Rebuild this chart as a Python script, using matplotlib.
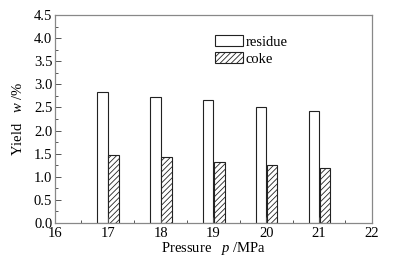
import matplotlib
matplotlib.use("Agg")
import matplotlib.pyplot as plt
import matplotlib.transforms as mtransforms
from matplotlib.ticker import MultipleLocator

pressure = [17, 18, 19, 20, 21]
residue = [2.83, 2.73, 2.66, 2.50, 2.42]
coke = [1.48, 1.43, 1.32, 1.26, 1.20]

plt.rcParams['font.family'] = ['Liberation Serif', 'DejaVu Serif']
plt.rcParams['mathtext.fontset'] = 'custom'
plt.rcParams['mathtext.rm'] = 'Liberation Serif'
plt.rcParams['mathtext.it'] = 'Liberation Serif:italic'
plt.rcParams['hatch.linewidth'] = 0.6
plt.rcParams['hatch.color'] = '#444444'

fig = plt.figure(figsize=(3.99, 2.59), dpi=100)
ax = fig.add_axes([0.138, 0.139, 0.794, 0.803])

w = 0.2
ax.bar([p - w / 2 for p in pressure], residue, width=w, facecolor='white',
       edgecolor='#222222', linewidth=0.8, label='residue')
ax.bar([p + w / 2 + 0.01 for p in pressure], coke, width=w, facecolor='white',
       edgecolor='#222222', linewidth=0.8, hatch='//////', label='coke')

ax.set_xlim(16, 22)
ax.set_ylim(0, 4.5)
ax.xaxis.set_major_locator(MultipleLocator(1))
ax.xaxis.set_minor_locator(MultipleLocator(0.5))
ax.yaxis.set_major_locator(MultipleLocator(0.5))
ax.yaxis.set_minor_locator(MultipleLocator(0.25))
ax.yaxis.set_major_formatter(matplotlib.ticker.FormatStrFormatter('%.1f'))
ax.tick_params(which='both', direction='in', top=False, right=False,
               labelsize=10.5, color='#555555', width=0.7)
ax.tick_params(which='major', length=4, pad=2)
ax.tick_params(which='minor', length=2.5)
ax.tick_params(axis='x', which='major', pad=3)
for s in ax.spines.values():
    s.set_color('#888888')
    s.set_linewidth(0.9)

fig.canvas.draw()
first = ax.get_xticklabels()[0]
first.set_transform(first.get_transform() +
                    mtransforms.ScaledTranslation(4 / 100, 0, fig.dpi_scale_trans))

ax.set_xlabel(r'Pressure   $\mathit{p}$ /MPa', fontsize=10.5, labelpad=0)
ax.set_ylabel(r'Yield   $\mathit{w}$ /%', fontsize=10.5, labelpad=6)

leg = ax.legend(loc='upper left', bbox_to_anchor=(0.487, 0.93), frameon=False,
                fontsize=10.5, handlelength=1.9, handleheight=0.75,
                handletextpad=0.2, labelspacing=0.25, borderaxespad=0)

fig.savefig('out.png', dpi=100)
